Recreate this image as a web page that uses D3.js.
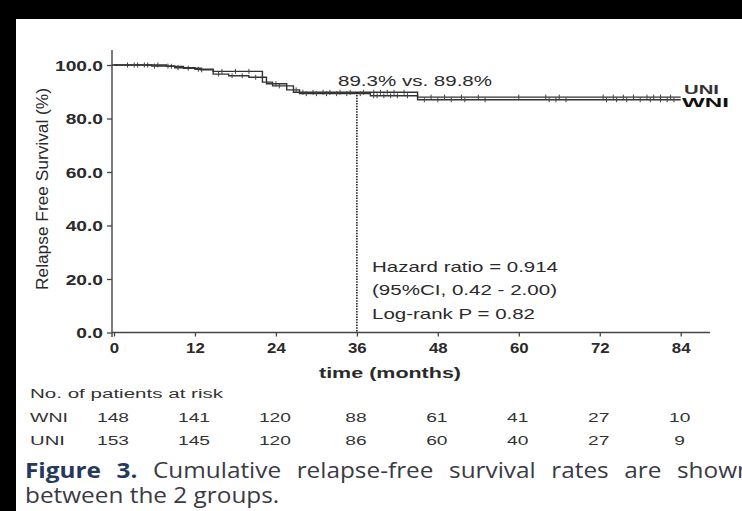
<!DOCTYPE html>
<html><head><meta charset="utf-8">
<script src="https://cdn.jsdelivr.net/npm/d3@7"></script>
<style>html,body{margin:0;padding:0;background:#fff;overflow:hidden}</style>
</head><body>
<svg id="fig" width="742" height="511"></svg>
<script>
// Kaplan–Meier relapse-free survival, WNI vs UNI
const uniTimes = [0, 7.8, 10.3, 12.8, 14.7, 22.0, 23.5, 26.6, 45];
const uniSurv  = [100, 99.5, 98.8, 98.2, 97.6, 93.6, 92.2, 89.8, 88.0];
const wniTimes = [0, 5.6, 9, 12, 14.7, 17, 20, 22.6, 25.6, 27.5, 38, 45];
const wniSurv  = [100, 99.6, 99.0, 98.4, 96.6, 96.0, 95.4, 93.0, 90.7, 89.3, 88.5, 87.0];
const followUpEnd = 84;

// censored observations (months)
const uniCensor = [2, 3.5, 5, 6.5, 8.5, 11, 13, 16, 18, 20, 24.5, 28, 29.5, 31, 32, 33.5, 35, 37, 38.5, 39.5, 40.5, 41.5, 43, 47, 49, 51.5, 54, 60, 64, 66, 72.5, 74, 75.5, 77, 79, 80, 81, 82.5];
const wniCensor = [3, 4.5, 6, 8, 9.5, 12.5, 15.5, 17.5, 19, 21, 24, 27, 28.5, 30, 31.5, 33, 34.5, 36.5, 38.5, 39, 40, 41, 42, 43.5, 46, 48, 50, 52, 55, 64.5, 65.5, 67, 73, 74.5, 76, 78, 79.5, 81, 82, 83];

// axes
const xTicks = [0, 12, 24, 36, 48, 60, 72, 84];
const yTicks = [0, 20, 40, 60, 80, 100];

// numbers at risk
const riskMonths = [0, 12, 24, 36, 48, 60, 72, 84];
const wniAtRisk = [148, 141, 120, 88, 61, 41, 27, 10];
const uniAtRisk = [153, 145, 120, 86, 60, 40, 27, 9];

// landmark at 36 months
const landmarkMonth = 36;
const landmarkText = "89.3% vs. 89.8%";
const statsLines = ["Hazard ratio = 0.914", "(95%CI, 0.42 - 2.00)", "Log-rank P = 0.82"];

const captionLine1 = ["Figure", "3.", "Cumulative", "relapse-free", "survival", "rates", "are", "shown"];
const captionLine2 = "between the 2 groups.";

const svg = d3.select("#fig");
const ink = "#2a2a2a";
const chartFont = "'Liberation Sans', Arial, sans-serif";

svg.append("rect").attr("width", 742).attr("height", 511).attr("fill", "#fff");

const x = d3.scaleLinear().domain([0, 84]).range([114, 680.7]);
const y = d3.scaleLinear().domain([0, 100]).range([332.5, 65]);
const axisX = 112;

// helper: horizontally stretched text
function label(parent, str, px, py, o = {}) {
  const t = parent.append("text")
    .attr("transform", `translate(${px},${py}) scale(${o.sx || 1},1)`)
    .attr("font-family", o.font || chartFont)
    .attr("font-size", o.size || 14)
    .attr("font-weight", o.weight || "normal")
    .attr("fill", o.fill || ink)
    .attr("text-anchor", o.anchor || "start")
    .text(str);
  if (o.len) t.attr("textLength", o.len).attr("lengthAdjust", "spacingAndGlyphs");
  return t;
}

// axis lines
svg.append("line").attr("x1", axisX).attr("x2", axisX).attr("y1", 50).attr("y2", 337)
  .attr("stroke", "#444").attr("stroke-width", 1.4);
svg.append("line").attr("x1", axisX).attr("x2", 710).attr("y1", y(0)).attr("y2", y(0))
  .attr("stroke", "#444").attr("stroke-width", 1.4);

const gy = svg.append("g").attr("transform", `translate(${axisX},0)`)
  .call(d3.axisLeft(y).tickValues(yTicks).tickSize(5).tickFormat(d3.format(".1f")));
gy.select(".domain").remove();
gy.selectAll(".tick line").attr("stroke", "#444").attr("stroke-width", 1.3);
gy.selectAll(".tick text")
  .attr("x", -9 / 1.28).attr("dy", "0.36em")
  .attr("transform", "scale(1.28,1)")
  .attr("font-family", chartFont).attr("font-size", 15).attr("font-weight", "bold").attr("fill", ink);

const gx = svg.append("g").attr("transform", `translate(0,${y(0)})`)
  .call(d3.axisBottom(x).tickValues(xTicks).tickSize(4));
gx.select(".domain").remove();
gx.selectAll(".tick line").attr("stroke", "#444").attr("stroke-width", 1.3);
gx.selectAll(".tick text")
  .attr("y", 20.5).attr("dy", 0)
  .attr("transform", "scale(1.2,1)")
  .attr("font-family", chartFont).attr("font-size", 14).attr("font-weight", "bold").attr("fill", ink);

// axis titles
svg.append("text")
  .attr("transform", `translate(48,189) rotate(-90)`)
  .attr("text-anchor", "middle")
  .attr("font-family", chartFont).attr("font-size", 16).attr("fill", ink)
  .attr("textLength", 202).attr("lengthAdjust", "spacingAndGlyphs")
  .text("Relapse Free Survival (%)");
label(svg, "time (months)", 390, 378, { size: 15, weight: "bold", anchor: "middle", len: 142 });

// survival curves
function stepValue(times, surv, t) {
  let v = surv[0];
  for (let i = 0; i < times.length; i++) if (times[i] <= t) v = surv[i];
  return v;
}
const stepLine = d3.line().x(d => x(d[0])).y(d => y(d[1])).curve(d3.curveStepAfter);
function drawCurve(times, surv, censor) {
  const pts = times.map((t, i) => [t, surv[i]]);
  pts.push([followUpEnd, surv[surv.length - 1]]);
  svg.append("path").attr("d", stepLine(pts)).attr("fill", "none")
    .attr("stroke", "#333").attr("stroke-width", 1.4);
  svg.append("g").selectAll("line").data(censor).join("line")
    .attr("x1", d => x(d)).attr("x2", d => x(d))
    .attr("y1", d => y(stepValue(times, surv, d)) - 2.5)
    .attr("y2", d => y(stepValue(times, surv, d)) + 2.5)
    .attr("stroke", "#444").attr("stroke-width", 1);
}
drawCurve(uniTimes, uniSurv, uniCensor);
drawCurve(wniTimes, wniSurv, wniCensor);

// short stub so the curves meet the y axis
svg.append("line").attr("x1", axisX).attr("x2", x(0)).attr("y1", y(100)).attr("y2", y(100))
  .attr("stroke", "#333").attr("stroke-width", 1.4);

// group labels at end of follow-up
label(svg, "UNI", 684, 94, { size: 12, weight: "bold", fill: "#333", len: 35 });
label(svg, "WNI", 682, 107, { size: 12, weight: "900", fill: "#111", len: 47 });

// landmark line at 36 months
const landmarkLevel = stepValue(uniTimes, uniSurv, landmarkMonth);
svg.append("line")
  .attr("x1", x(landmarkMonth)).attr("x2", x(landmarkMonth))
  .attr("y1", y(landmarkLevel)).attr("y2", y(0))
  .attr("stroke", "#222").attr("stroke-width", 1.6).attr("stroke-dasharray", "1.5,1.2");
label(svg, landmarkText, 338, 86, { size: 15, len: 154 });

// statistics text
const statLens = [186, 185, 163];
const statBase = [272, 295, 319];
statsLines.forEach((s, i) => label(svg, s, 372, statBase[i], { size: 15, len: statLens[i] }));

// numbers at risk table
label(svg, "No. of patients at risk", 30, 398, { size: 12, fill: "#333", len: 193 });
label(svg, "WNI", 30, 422, { size: 12, fill: "#333", len: 38 });
label(svg, "UNI", 30, 445, { size: 12, fill: "#333", len: 35 });
riskMonths.forEach((m, i) => {
  label(svg, wniAtRisk[i], x(m) - 1, 422, { size: 12, sx: 1.6, anchor: "middle", fill: "#333" });
  label(svg, uniAtRisk[i], x(m) - 1, 445, { size: 12, sx: 1.6, anchor: "middle", fill: "#333" });
});

// caption (justified first line, runs past the right edge)
const capFont = "'Open Sans', 'Noto Sans', sans-serif";
const capSx = 1.16, capSize = 21;
const capWords = captionLine1.map((w, i) => {
  const t = svg.append("text")
    .attr("font-family", capFont).attr("font-size", capSize)
    .attr("font-weight", i < 2 ? "bold" : "normal")
    .attr("fill", i < 2 ? "#26395a" : "#3a3a44")
    .text(w);
  return { node: t, w: t.node().getComputedTextLength() * capSx };
});
const lineStart = 25, lineEnd = 752;
const totalW = d3.sum(capWords, d => d.w);
const gap = (lineEnd - lineStart - totalW) / (capWords.length - 1);
let cx = lineStart;
capWords.forEach(d => {
  d.node.attr("transform", `translate(${cx},478) scale(${capSx},1)`);
  cx += d.w + gap;
});
svg.append("text")
  .attr("transform", `translate(${lineStart},503) scale(${capSx},1)`)
  .attr("font-family", capFont).attr("font-size", capSize).attr("fill", "#3a3a44")
  .text(captionLine2);

// dark frame along the top and left edges
svg.append("rect").attr("x", 0).attr("y", 0).attr("width", 742).attr("height", 19).attr("fill", "#000");
svg.append("rect").attr("x", 0).attr("y", 0).attr("width", 16).attr("height", 511).attr("fill", "#000");
</script>
</body></html>
